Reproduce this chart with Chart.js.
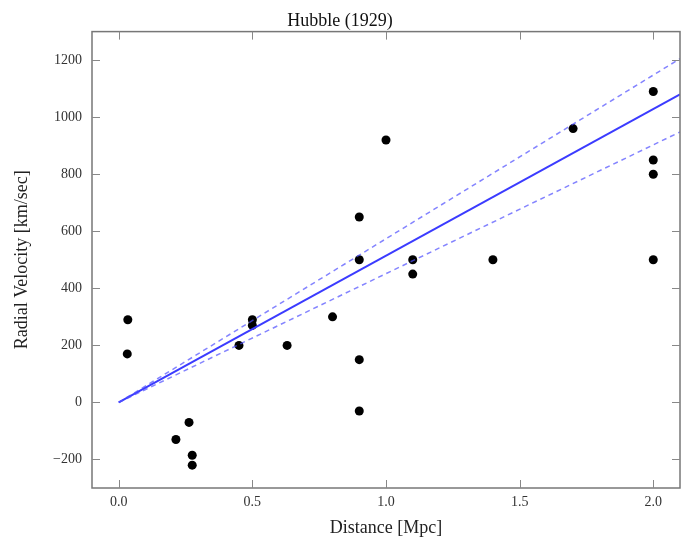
<!DOCTYPE html>
<html>
<head>
<meta charset="utf-8">
<script src="https://cdn.jsdelivr.net/npm/chart.js@4.4.1/dist/chart.umd.min.js"></script>
<style>
  html, body { margin: 0; padding: 0; background: #fff; overflow: hidden; }
  #wrap { width: 681px; height: 542px; }
</style>
</head>
<body>
<div id="wrap"><canvas id="hubbleChart"></canvas></div>
<script>
// Hubble (1929) distances and radial velocities
const distances = [0.032, 0.034, 0.214, 0.263, 0.275, 0.275, 0.45, 0.5, 0.5, 0.63, 0.8, 0.9,
                   0.9, 0.9, 0.9, 1.0, 1.1, 1.1, 1.4, 1.7, 2.0, 2.0, 2.0, 2.0];
const velocities = [170, 290, -130, -70, -185, -220, 200, 290, 270, 200, 300, -30,
                    650, 150, 500, 920, 450, 500, 500, 960, 500, 850, 800, 1090];

// fit line and its band, end points
const lineX = [0, 2.1];
const fitY = [0, 1080];
const upperY = [0, 1205];
const lowerY = [0, 948];

const xTicks = [0, 0.5, 1.0, 1.5, 2.0];
const yTicks = [-200, 0, 200, 400, 600, 800, 1000, 1200];

const serif = "'Liberation Serif', 'Times New Roman', serif";

const toPoints = (xs, ys) => xs.map((x, i) => ({ x: x, y: ys[i] }));

// box frame with inward ticks on all sides
const framePlugin = {
    id: 'frame',
    afterDraw(chart) {
        const { ctx, chartArea: a, scales } = chart;
        ctx.save();
        ctx.strokeStyle = '#777';
        ctx.lineWidth = 1.5;
        ctx.strokeRect(a.left, a.top, a.right - a.left, a.bottom - a.top);
        ctx.lineWidth = 1;
        ctx.strokeStyle = '#888';
        const len = 8;
        ctx.beginPath();
        xTicks.forEach(v => {
            const px = Math.round(scales.x.getPixelForValue(v)) + 0.5;
            ctx.moveTo(px, a.bottom); ctx.lineTo(px, a.bottom - len);
            ctx.moveTo(px, a.top); ctx.lineTo(px, a.top + len);
        });
        yTicks.forEach(v => {
            const py = Math.round(scales.y.getPixelForValue(v)) + 0.5;
            ctx.moveTo(a.left, py); ctx.lineTo(a.left + len, py);
            ctx.moveTo(a.right, py); ctx.lineTo(a.right - len, py);
        });
        ctx.stroke();
        ctx.restore();
    }
};

const ctx = document.getElementById('hubbleChart').getContext('2d');
new Chart(ctx, {
    type: 'scatter',
    data: {
        datasets: [
            {
                label: 'upper',
                type: 'line',
                data: toPoints(lineX, upperY),
                borderColor: 'rgba(80, 80, 255, 0.7)',
                borderWidth: 1.5,
                borderDash: [5, 4],
                pointRadius: 0,
                fill: false
            },
            {
                label: 'lower',
                type: 'line',
                data: toPoints(lineX, lowerY),
                borderColor: 'rgba(80, 80, 255, 0.7)',
                borderWidth: 1.5,
                borderDash: [5, 4],
                pointRadius: 0,
                fill: false
            },
            {
                label: 'fit',
                type: 'line',
                data: toPoints(lineX, fitY),
                borderColor: '#3b3bff',
                borderWidth: 2,
                pointRadius: 0,
                fill: false
            },
            {
                label: 'galaxies',
                data: toPoints(distances, velocities),
                backgroundColor: '#000',
                borderColor: '#000',
                pointRadius: 4.5,
                borderWidth: 0
            }
        ]
    },
    options: {
        responsive: true,
        maintainAspectRatio: false,
        animation: false,
        layout: { autoPadding: false, padding: { top: 0, right: 1, bottom: 0, left: 0 } },
        plugins: {
            legend: { display: false },
            tooltip: { enabled: false },
            title: {
                display: true,
                text: 'Hubble (1929)',
                color: '#111',
                font: { family: serif, size: 18, weight: 'normal' },
                padding: { top: 10, bottom: 0 }
            }
        },
        scales: {
            x: {
                type: 'linear',
                min: -0.1,
                max: 2.1,
                afterBuildTicks: s => { s.ticks = xTicks.map(v => ({ value: v })); },
                afterFit: s => { s.height = 54; s.paddingLeft = 0; s.paddingRight = 0; },
                grid: { display: false, drawTicks: false },
                border: { display: false },
                ticks: {
                    padding: 6,
                    color: '#333',
                    font: { family: serif, size: 14 },
                    callback: v => v.toFixed(1)
                },
                title: {
                    display: true,
                    text: 'Distance [Mpc]',
                    color: '#222',
                    font: { family: serif, size: 18 },
                    padding: { top: 0, bottom: 3 }
                }
            },
            y: {
                type: 'linear',
                min: -300,
                max: 1300,
                afterBuildTicks: s => { s.ticks = yTicks.map(v => ({ value: v })); },
                afterFit: s => { s.width = 92; s.paddingTop = 0; s.paddingBottom = 0; },
                grid: { display: false, drawTicks: false },
                border: { display: false },
                ticks: {
                    padding: 10,
                    color: '#333',
                    font: { family: serif, size: 14 },
                    callback: v => String(v).replace('-', '\u2212')
                },
                title: {
                    display: true,
                    text: 'Radial Velocity [km/sec]',
                    color: '#222',
                    font: { family: serif, size: 18 },
                    padding: { top: 11, bottom: 0 }
                }
            }
        }
    },
    plugins: [framePlugin]
});
</script>
</body>
</html>
